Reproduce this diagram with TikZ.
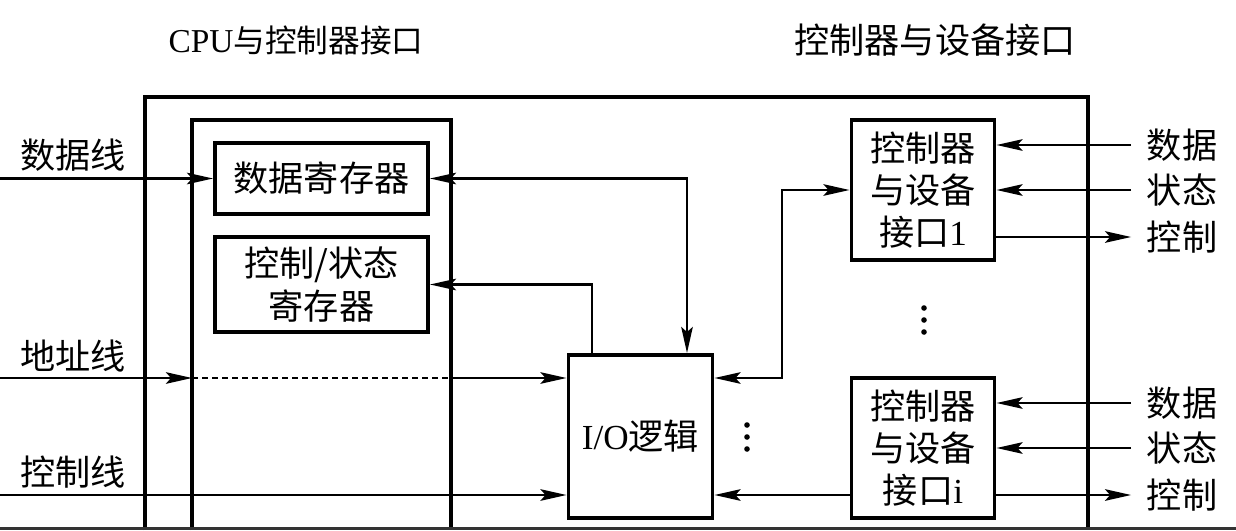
\documentclass[tikz,border=0pt]{standalone}
\usepackage{fontspec}
\setmainfont{Liberation Serif}
\newfontfamily\cjk{Noto Sans CJK SC}
\usetikzlibrary{arrows.meta, positioning}

\tikzset{
  regbox/.style={draw, line width=1.1pt, align=center, inner sep=0pt, font=\cjk},
  frame/.style={line width=1pt},
  tip/.tip={Stealth[length=2.6mm, width=1.15mm, inset=0.5mm]},
  sig/.style={line width=0.75pt, -tip},
  bisig/.style={line width=0.75pt, tip-tip},
  sidelabel/.style={font=\cjk, inner sep=0pt},
  devlabel/.style={font=\cjk, inner ysep=0pt, inner xsep=1.5mm},
}

\begin{document}
\begin{tikzpicture}[x=0.01cm, y=-0.01cm, font=\fontsize{9pt}{12.6pt}\selectfont]
\useasboundingbox (0,0) rectangle (1236,530);

% frames, open at the bottom
\draw[frame] (145,530) -- (145,97) -- (1088,97) -- (1088,530);
\draw[frame] (192,530) -- (192,120) -- (451,120) -- (451,530);
\coordinate (cpuL) at (192,120);
\coordinate (cpuR) at (451,120);
\node (titleL) at (296,40) {\fontsize{9.5pt}{12pt}\selectfont CPU{\cjk\fontsize{9pt}{12pt}\selectfont 与控制器接口}};
\node[font=\cjk] (titleR) at (935,40) {控制器与设备接口};

% registers and logic
\node[regbox, minimum width=2.13cm, minimum height=0.71cm] (dreg) at (321.5,178.5) {数据寄存器};
\node[regbox, minimum width=2.13cm, minimum height=0.95cm] (csreg) at (321.5,284.5) {控制/状态\\寄存器};
\node[regbox, minimum width=1.44cm, minimum height=1.63cm] (iol) at (640.5,436.5) {\rmfamily I/O{\cjk 逻辑}};
\node[regbox, minimum width=1.43cm, minimum height=1.40cm] (dev1) at (923,190) {控制器\\与设备\\接口{\rmfamily 1}};
\node[regbox, minimum width=1.43cm, minimum height=1.40cm] (devi) at (923,448) {控制器\\与设备\\接口{\rmfamily i}};
% vertical dots
\foreach \y in {308,320,332} \fill (924,\y) circle (0.28mm);
\foreach \y in {425,437,449} \fill (747,\y) circle (0.28mm);

% CPU side signals
\node[sidelabel] (dline) at (73,155) {数据线};
\node[sidelabel] (aline) at (73,356) {地址线};
\node[sidelabel] (cline) at (73,472) {控制线};
\coordinate (dIn) at (0,178.5);
\coordinate (aIn) at (0,378);
\coordinate (cIn) at (0,495);
\draw[sig] (dIn) -- (dreg.west);
\draw[sig] (aIn) -- (aIn -| cpuL);
\draw[line width=0.75pt, dash pattern=on 0.6mm off 0.4mm] (aIn -| cpuL) -- (aIn -| cpuR);
\draw[sig] (aIn -| cpuR) -- (aIn -| iol.west);
\draw[sig] (cIn) -- (cIn -| iol.west);

% register <-> logic
\coordinate (dTurn) at (687,178.5);
\draw[bisig] (dreg.east) -- (dTurn) -- (dTurn |- iol.north);
\coordinate (csTurn) at (592,284.5);
\draw[sig] (csTurn |- iol.north) -- (csTurn) -- (csreg.east);

% logic <-> device interfaces
\coordinate (rTurn) at (782,378);
\draw[bisig] (rTurn -| iol.east) -- (rTurn) |- (dev1.west);
\draw[sig] (cIn -| devi.west) -- (cIn -| iol.east);

% device side signals
\node[devlabel] (dat1) at (1182,145) {数据};
\node[devlabel] (sta1) at (1182,190) {状态};
\node[devlabel] (ctl1) at (1182,237) {控制};
\node[devlabel] (dat2) at (1182,403) {数据};
\node[devlabel] (sta2) at (1182,448) {状态};
\node[devlabel] (ctl2) at (1182,495) {控制};
\draw[sig] (dat1.west) -- (dat1.west -| dev1.east);
\draw[sig] (sta1.west) -- (sta1.west -| dev1.east);
\draw[sig] (ctl1.west -| dev1.east) -- (ctl1.west);
\draw[sig] (dat2.west) -- (dat2.west -| devi.east);
\draw[sig] (sta2.west) -- (sta2.west -| devi.east);
\draw[sig] (ctl2.west -| devi.east) -- (ctl2.west);

% bottom edge strip
\fill[black!80] (0,527) rectangle (1236,530);
\end{tikzpicture}
\end{document}
